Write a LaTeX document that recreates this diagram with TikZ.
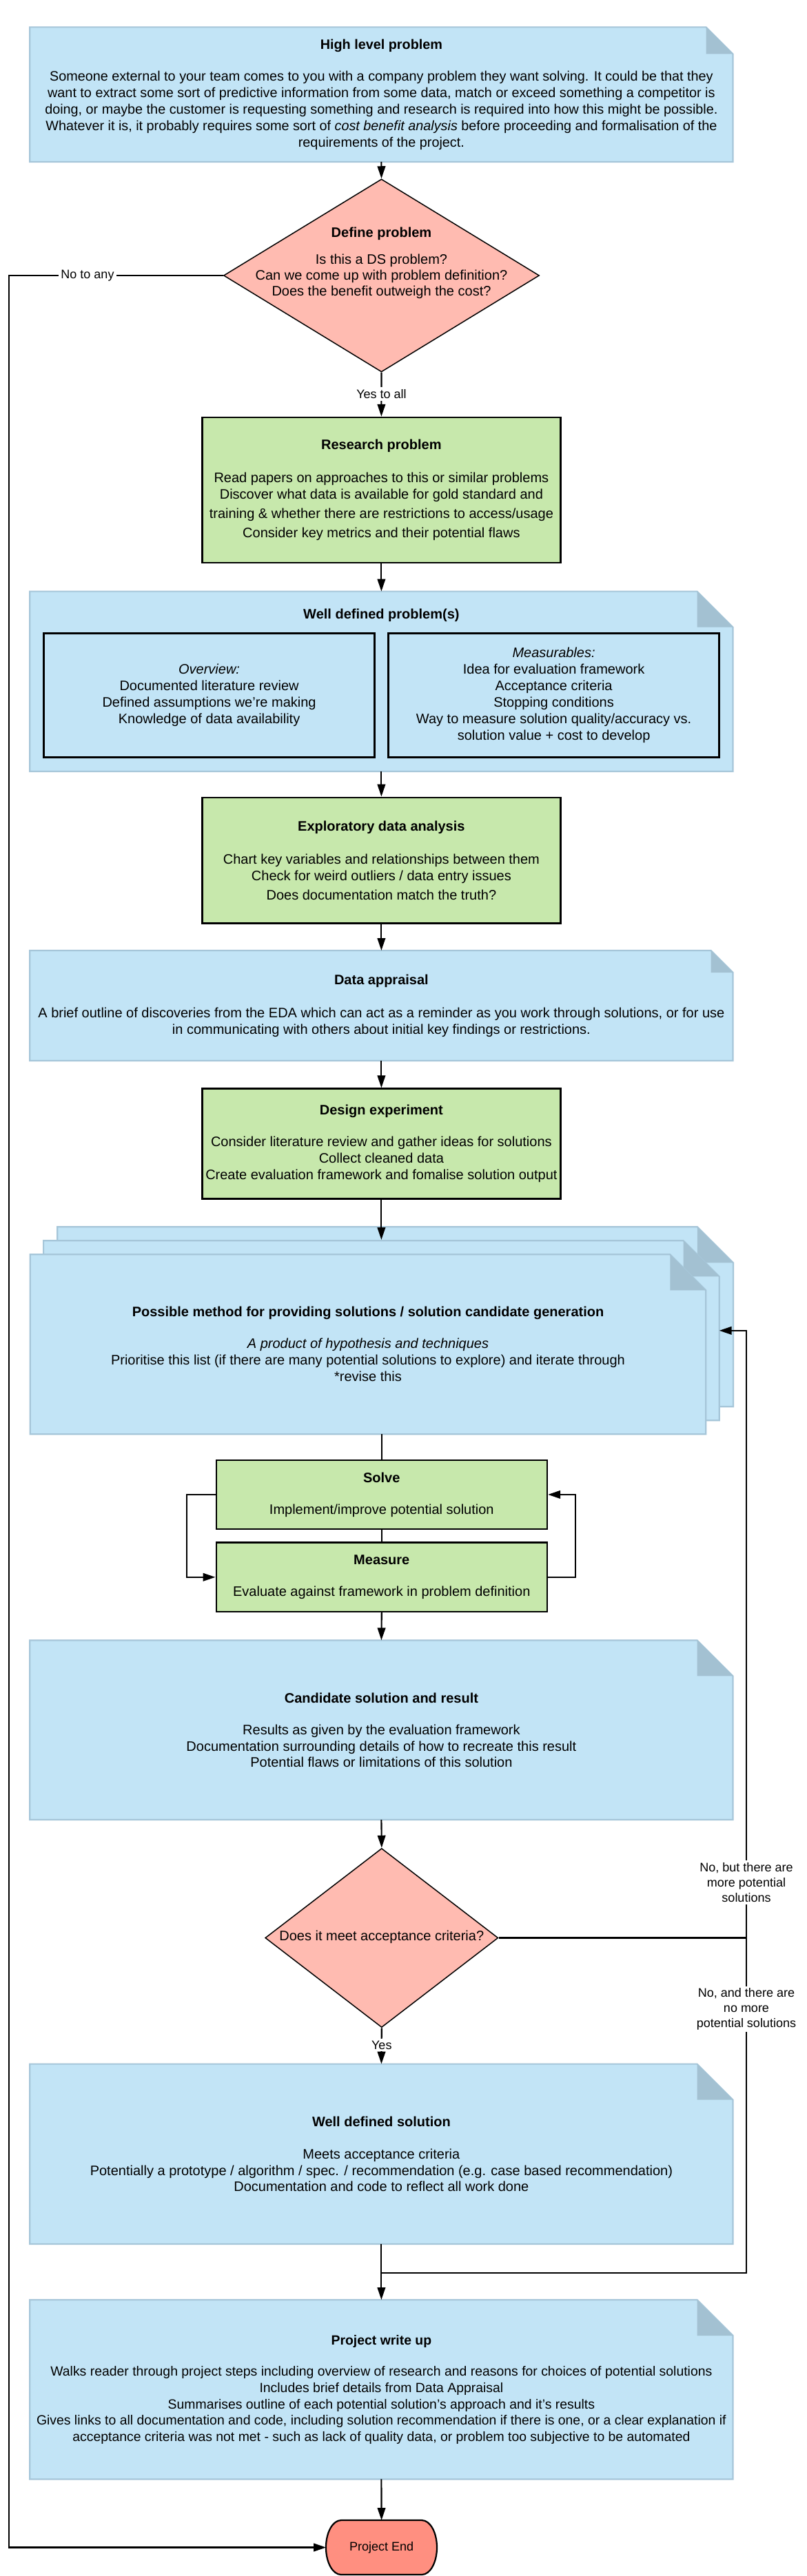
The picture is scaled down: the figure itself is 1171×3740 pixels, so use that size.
\documentclass[tikz,border=0pt]{standalone}
\usepackage{fontspec}
\setmainfont{Liberation Sans}
\usetikzlibrary{arrows.meta,shapes.geometric,backgrounds,calc}
\definecolor{noteblue}{HTML}{C2E4F6}
\definecolor{noteedge}{HTML}{A6C6D9}
\definecolor{notefold}{HTML}{A3C1D2}
\definecolor{boxgreen}{HTML}{C7E8AC}
\definecolor{decpink}{HTML}{FFBBB1}
\definecolor{endred}{HTML}{FF8F80}
\newcommand{\notebg}[2]{%
  \filldraw[fill=noteblue, draw=noteedge, line width=1.1pt]
    (#1.north west) -- ([xshift=-#2pt]#1.north east) -- ([yshift=-#2pt]#1.north east)
    -- (#1.south east) -- (#1.south west) -- cycle;
  \fill[notefold] ([xshift=-#2pt]#1.north east) -- ([xshift=-#2pt,yshift=-#2pt]#1.north east)
    -- ([yshift=-#2pt]#1.north east) -- cycle;}
\begin{document}
\begin{tikzpicture}[x=0.5pt,y=-0.5pt,
  every node/.style={font=\fontsize{10}{12}\selectfont},
  txt/.style={align=center, inner sep=0pt},
  note/.style={align=center, inner sep=0pt, outer sep=0pt, minimum width=510.1pt},
  gbox/.style={align=center, inner sep=0pt, draw=black, fill=boxgreen, line width=1.2pt},
  ibox/.style={align=center, inner sep=0pt, draw=black, line width=1.2pt, minimum width=240pt, minimum height=90pt},
  decision/.style={diamond, draw=black, fill=decpink, line width=0.75pt, inner sep=0pt},
  conn/.style={draw=black, line width=1.05pt},
  arr/.style={conn, -{Triangle[length=9pt,width=5.8pt]}},
  lbl/.style={fill=white, align=center, inner sep=1.5pt, font=\fontsize{9}{11}\selectfont}]
\useasboundingbox (0,0) rectangle (1171,3740);

% ---------- nodes ----------
\node[note, minimum height=97.8pt, font=\fontsize{9.9}{12}\selectfont] (hlp) at (553.4,137.2)
  {\textbf{High level problem}\\[11pt]Someone external to your team comes to you with a company problem they want solving. It could be that they\\want to extract some sort of predictive information from some data, match or exceed something a competitor is\\doing, or maybe the customer is requesting something and research is required into how this might be possible.\\Whatever it is, it probably requires some sort of \textit{cost benefit analysis} before proceeding and formalisation of the\\requirements of the project.};

\node[decision, minimum width=229pt, minimum height=140pt] (dp) at (553.5,400) {};
\node[txt, font=\fontsize{10}{11.5}\selectfont] (dpt) at (553.5,382.3)
  {\textbf{Define problem}\\[8pt]Is this a DS problem?\\Can we come up with problem definition?\\Does the benefit outweigh the cost?};

\node[gbox, minimum width=259.9pt, minimum height=105.5pt] (rp) at (553.4,711.5)
  {\textbf{Research problem}\\[12pt]Read papers on approaches to this or similar problems\\Discover what data is available for gold standard and\\[1.8pt]training \& whether there are restrictions to access/usage\\[2.2pt]Consider key metrics and their potential flaws};

\node[note, minimum height=130.7pt] (wdp) at (553.4,989.3) {};
\node[txt] (wdpt) at (553.4,893) {\textbf{Well defined problem(s)}};
\node[ibox] (ov) at (303.6,1009.6)
  {\textit{Overview:}\\Documented literature review\\Defined assumptions we're making\\Knowledge of data availability};
\node[ibox] (ms) at (803.6,1009.6)
  {\textit{Measurables:}\\Idea for evaluation framework\\Acceptance criteria\\Stopping conditions\\Way to measure solution quality/accuracy vs.\\solution value + cost to develop};

\node[gbox, minimum width=259.9pt, minimum height=91.4pt] (eda) at (553.4,1249.2)
  {\textbf{Exploratory data analysis}\\[12pt]Chart key variables and relationships between them\\Check for weird outliers / data entry issues\\[1.7pt]Does documentation match the truth?};

\node[note, minimum height=80pt] (da) at (553.4,1460)
  {\textbf{Data appraisal}\\[12pt]A brief outline of discoveries from the EDA which can act as a reminder as you work through solutions, or for use\\in communicating with others about initial key findings or restrictions.};

\node[gbox, minimum width=259.9pt, minimum height=80pt] (de) at (553.4,1660.6)
  {\textbf{Design experiment}\\[11pt]Consider literature review and gather ideas for solutions\\Collect cleaned data\\Create evaluation framework and fomalise solution output};

\node[note, minimum width=490.3pt, minimum height=130.5pt] (stk3) at (573.6,1911.8) {};
\node[note, minimum width=490.3pt, minimum height=130.5pt] (stk2) at (553.4,1931.8) {};
\node[note, minimum width=490.3pt, minimum height=130.5pt] (stk1) at (534,1951.8)
  {\textbf{Possible method for providing solutions / solution candidate generation}\\[11pt]\textit{A product of hypothesis and techniques}\\Prioritise this list (if there are many potential solutions to explore) and iterate through\\{*}revise this};

\node[gbox, minimum width=240.1pt, minimum height=50pt] (solve) at (553.8,2169.9)
  {\textbf{Solve}\\[11pt]Implement/improve potential solution};
\node[gbox, minimum width=240.1pt, minimum height=50.2pt] (meas) at (553.8,2289.8)
  {\textbf{Measure}\\[11pt]Evaluate against framework in problem definition};

\node[note, minimum height=130.3pt, font=\fontsize{10}{11.7}\selectfont] (csr) at (553.4,2511.7)
  {\textbf{Candidate solution and result}\\[11.5pt]Results as given by the evaluation framework\\Documentation surrounding details of how to recreate this result\\Potential flaws or limitations of this solution};

\node[decision, minimum width=169pt, minimum height=130pt] (acc) at (553.8,2813.5) {};
\node[txt] (acct) at (553.8,2812) {Does it meet acceptance criteria?};

\node[note, minimum height=130.7pt, font=\fontsize{10}{11.6}\selectfont] (wds) at (553.4,3127.3)
  {\textbf{Well defined solution}\\[12pt]Meets acceptance criteria\\Potentially a prototype / algorithm / spec. / recommendation (e.g. case based recommendation)\\Documentation and code to reflect all work done};

\node[note, minimum height=130.2pt, font=\fontsize{9.7}{11.8}\selectfont] (pwu) at (553.4,3469.2)
  {\textbf{Project write up}\\[11pt]Walks reader through project steps including overview of research and reasons for choices of potential solutions\\Includes brief details from Data Appraisal\\Summarises outline of each potential solution's approach and it's results\\Gives links to all documentation and code, including solution recommendation if there is one, or a clear explanation if\\acceptance criteria was not met - such as lack of quality data, or problem too subjective to be automated};

\node[inner sep=0pt, outer sep=0pt, minimum width=80.4pt, minimum height=39.5pt, font=\fontsize{9}{11}\selectfont] (end) at (553.6,3698.5) {Project End};

% ---------- backgrounds ----------
\begin{scope}[on background layer]
  \fill[white] (0,0) rectangle (1171,3740);
  \notebg{hlp}{19.5}
  \notebg{wdp}{26}
  \notebg{da}{16}
  \notebg{stk3}{26}
  \notebg{stk2}{26}
  \notebg{stk1}{26}
  \notebg{csr}{26}
  \notebg{wds}{26}
  \notebg{pwu}{26}
  \filldraw[fill=endred, draw=black, line width=1.1pt]
    (495,3659) -- (612,3659) .. controls (624.2,3659) and (634,3676.7) .. (634,3698.5)
    .. controls (634,3720.3) and (624.2,3738) .. (612,3738) -- (495,3738)
    .. controls (482.8,3738) and (473,3720.3) .. (473,3698.5)
    .. controls (473,3676.7) and (482.8,3659) .. (495,3659) -- cycle;
\end{scope}

% ---------- connectors ----------
\coordinate (lx) at (13.4,0);
\coordinate (rx) at (1083,0);
\coordinate (stin) at (553.4,1800);
\coordinate (jn) at (553.4,3299.7);

\draw[arr] (hlp.south) -- (dp.north);
\draw[arr] (dp.west) -- (dp.west -| lx) -- (lx |- end.west) -- (end.west);
\draw[arr] (dp.south) -- (rp.north);
\draw[arr] (rp.south) -- (wdp.north);
\draw[arr] (wdp.south) -- (eda.north);
\draw[arr] (eda.south) -- (da.north);
\draw[arr] (da.south) -- (de.north);
\draw[arr] (de.south) -- (stin);
\draw[conn] (solve.north |- stk1.south) -- (solve.north);
\draw[conn] (solve.south) -- (meas.north);
\draw[arr] (solve.west) -- ++(-41.1,0) |- (meas.west);
\draw[arr] (meas.east) -- ++(40.3,0) |- (solve.east);
\draw[arr] (meas.south) -- (csr.north);
\draw[arr] (csr.south) -- (acc.north);
\draw[arr] (acc.east) -- (acc.east -| rx) -- (rx |- stk2.east) -- (stk2.east);
\draw[conn] (acc.east -| rx) -- (rx |- jn) -- (jn);
\draw[arr] (acc.south) -- (wds.north);
\draw[arr] (wds.south) -- (pwu.north);
\draw[arr] (pwu.south) -- (end.north);

% ---------- labels ----------
\node[lbl] (noany) at (127,400) {No to any};
\node[lbl] (yesall) at (553.5,572) {Yes to all};
\node[lbl] (yes) at (553.8,2969) {Yes};
\node[lbl] (lb1) at (1083,2733) {No, but there are\\more potential\\solutions};
\node[lbl] (lb2) at (1083,2917) {No, and there are\\no more\\potential solutions};
\end{tikzpicture}
\end{document}
